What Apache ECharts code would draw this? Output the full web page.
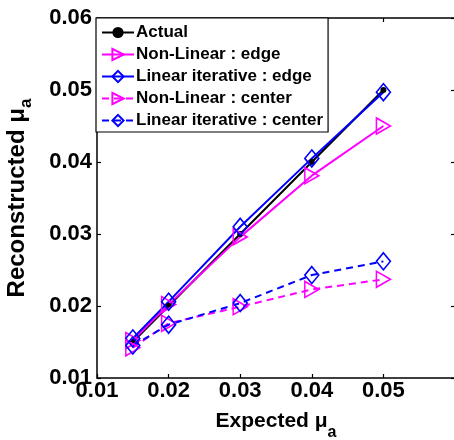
<!DOCTYPE html>
<html><head><meta charset="utf-8">
<script src="https://cdn.jsdelivr.net/npm/echarts@6/dist/echarts.min.js"></script>
<style>html,body{margin:0;padding:0;background:#fff}#c{width:454px;height:440px}</style>
</head><body><div id="c"></div>
<script>
const expected = [0.015, 0.02, 0.03, 0.04, 0.05];
const actual = [0.015, 0.02, 0.03, 0.04, 0.05];
const nonLinearEdge = [0.0152, 0.0202, 0.0296, 0.0381, 0.0450];
const linearIterEdge = [0.0155, 0.0206, 0.0310, 0.0405, 0.0497];
const nonLinearCenter = [0.0142, 0.0176, 0.0199, 0.0223, 0.0237];
const linearIterCenter = [0.0145, 0.0174, 0.0204, 0.0243, 0.0262];
const seriesNames = ['Actual', 'Non-Linear : edge', 'Linear iterative : edge', 'Non-Linear : center', 'Linear iterative : center'];

const pair = ys => expected.map((x, i) => [x, ys[i]]);
const FONT = 'Liberation Sans, Arial, sans-serif';

function tri(name, ys, dashed) {
  return {
    name, type: 'line', data: pair(ys),
    symbol: 'triangle', symbolSize: [16, 14], symbolRotate: -90,
    itemStyle: { color: 'rgba(255,255,255,0)', borderColor: '#ff00ff', borderWidth: 1.6 },
    lineStyle: { color: '#ff00ff', width: 2, type: dashed ? [7, 5] : 'solid' },
    emphasis: { disabled: true }
  };
}
function dia(name, ys, dashed) {
  return {
    name, type: 'line', data: pair(ys),
    symbol: 'diamond', symbolSize: [14, 17],
    itemStyle: { color: 'rgba(255,255,255,0)', borderColor: '#0000ff', borderWidth: 1.6 },
    lineStyle: { color: '#0000ff', width: 2, type: dashed ? [7, 5] : 'solid' },
    emphasis: { disabled: true }
  };
}

const chart = echarts.init(document.getElementById('c'), null, { renderer: 'canvas' });
const axLine = { show: true, lineStyle: { color: '#000', width: 1.5 } };
chart.setOption({
  animation: false,
  textStyle: { fontFamily: FONT },
  grid: { left: 97, top: 18, width: 358, height: 360, outerBoundsMode: 'none', containLabel: false },
  legend: {
    data: seriesNames, orient: 'vertical', left: 96, top: 18,
    backgroundColor: '#fff', borderColor: '#000', borderWidth: 1.2,
    padding: [6, 5, 3, 5], itemGap: 5, itemWidth: 32, itemHeight: 14,
    textStyle: { fontSize: 17, fontWeight: 'bold', color: '#000', fontFamily: FONT, padding: [0, 0, 0, -3] },
    z: 10
  },
  xAxis: [{
    type: 'value', min: 0.01, max: 0.06, interval: 0.01,
    axisLine: axLine, axisTick: { inside: true, length: 4, lineStyle: { color: '#000', width: 1.2 } },
    splitLine: { show: false },
    axisLabel: { fontSize: 22, fontWeight: 'bold', color: '#000', margin: 2, fontFamily: FONT,
      formatter: v => (Math.abs(v - 0.06) < 1e-9 ? '' : v.toFixed(2)) },
    name: '{t|Expected μ}{s|a}', nameLocation: 'middle', nameGap: 23,
    nameTextStyle: { rich: {
      t: { fontSize: 21, fontWeight: 'bold', color: '#000', fontFamily: FONT },
      s: { fontSize: 16, fontWeight: 'bold', color: '#000', fontFamily: FONT, padding: [24, 0, 0, 0] }
    } }
  }, {
    type: 'value', position: 'top', min: 0.01, max: 0.06, interval: 0.01,
    axisLine: axLine, axisTick: { inside: true, length: 4, lineStyle: { color: '#000', width: 1.2 } },
    axisLabel: { show: false }, splitLine: { show: false }
  }],
  yAxis: [{
    type: 'value', min: 0.01, max: 0.06, interval: 0.01,
    axisLine: axLine, axisTick: { inside: true, length: 4, lineStyle: { color: '#000', width: 1.2 } },
    splitLine: { show: false },
    axisLabel: { fontSize: 22, fontWeight: 'bold', color: '#000', margin: 5, fontFamily: FONT,
      formatter: v => v.toFixed(2) },
    name: '{t|Reconstructed μ}{s|a}', nameLocation: 'middle', nameGap: 62, nameRotate: 90,
    nameTextStyle: { rich: {
      t: { fontSize: 24, fontWeight: 'bold', color: '#000', fontFamily: FONT },
      s: { fontSize: 17, fontWeight: 'bold', color: '#000', fontFamily: FONT, padding: [18, 0, 0, 0] }
    } }
  }, {
    type: 'value', position: 'right', min: 0.01, max: 0.06, interval: 0.01,
    axisLine: axLine, axisTick: { inside: true, length: 4, lineStyle: { color: '#000', width: 1.2 } },
    axisLabel: { show: false }, splitLine: { show: false }
  }],
  series: [
    { name: seriesNames[0], type: 'line', data: pair(actual), symbol: 'circle', symbolSize: 6,
      itemStyle: { color: '#000' }, lineStyle: { color: '#000', width: 2 }, emphasis: { disabled: true }, z: 3 },
    tri(seriesNames[1], nonLinearEdge, false),
    dia(seriesNames[2], linearIterEdge, false),
    tri(seriesNames[3], nonLinearCenter, true),
    dia(seriesNames[4], linearIterCenter, true)
  ]
});
</script></body></html>
